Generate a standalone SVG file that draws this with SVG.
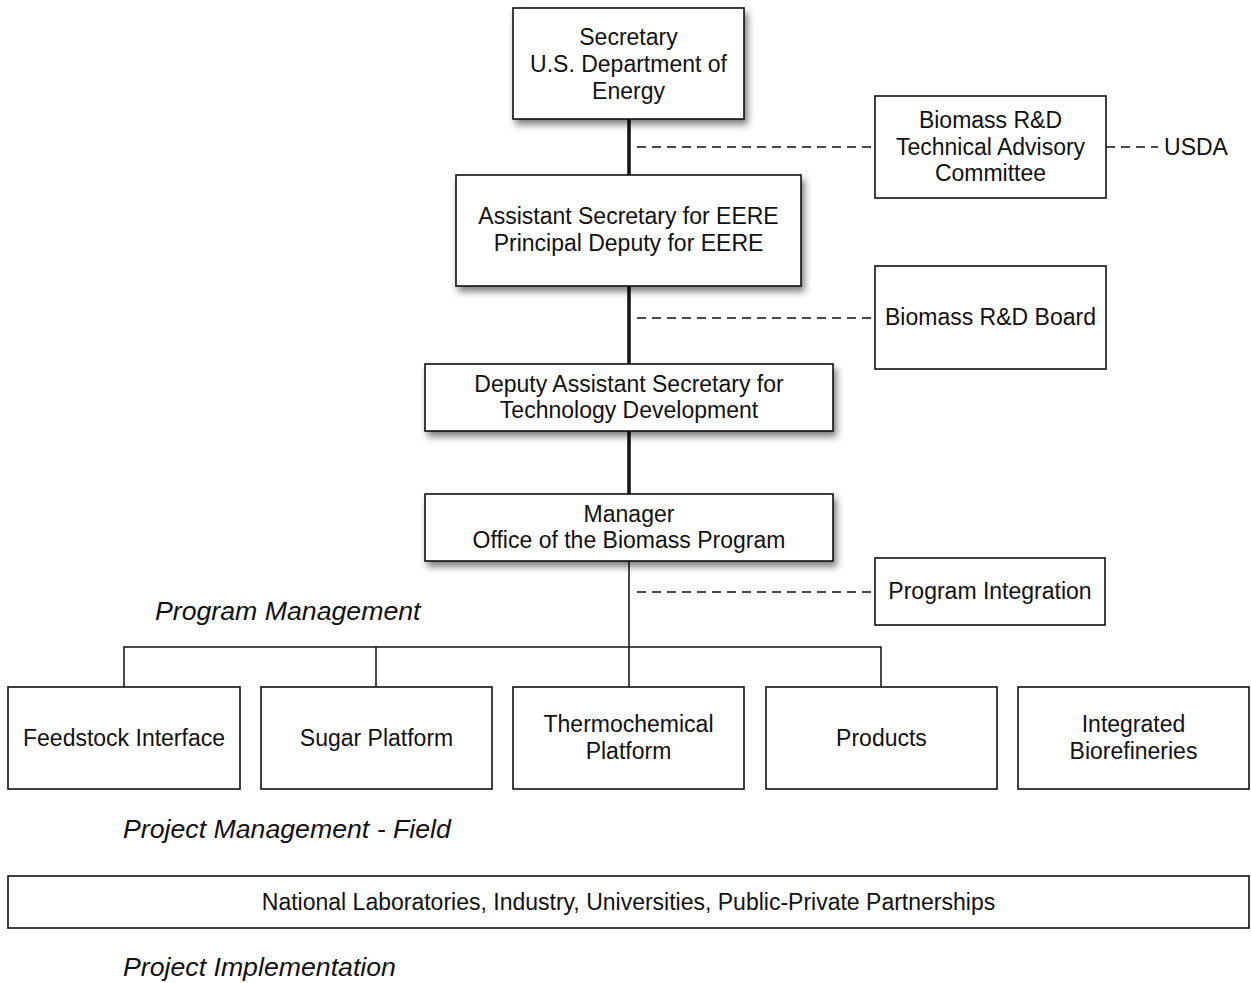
<svg xmlns="http://www.w3.org/2000/svg" width="1251" height="983" viewBox="0 0 1251 983">
<style>
.box{fill:#fff;stroke:#111;stroke-width:1.6}
.t{font-family:"Liberation Sans",Arial,sans-serif;font-size:23px;fill:#111;text-anchor:middle}
.lab{font-family:"Liberation Sans",Arial,sans-serif;font-size:26.7px;font-style:italic;fill:#111}
.thick{stroke:#111;stroke-width:3.5;fill:none}
.thin{stroke:#111;stroke-width:1.5;fill:none}
.dash{stroke:#111;stroke-width:1.3;stroke-dasharray:9 6;fill:none}
</style>
<defs>
<filter id="sh" x="-10%" y="-10%" width="125%" height="140%">
<feDropShadow dx="3" dy="5" stdDeviation="3.5" flood-color="#000" flood-opacity="0.5"/>
</filter>
</defs>
<rect width="1251" height="983" fill="#fff"/>
<g id="connectors">
<line class="thick" x1="629" y1="119" x2="629" y2="175"/>
<line class="thick" x1="629" y1="286" x2="629" y2="364"/>
<line class="thick" x1="629" y1="431" x2="629" y2="494"/>
<line class="thin" x1="629" y1="561" x2="629" y2="687"/>
<polyline class="thin" points="124,687 124,647 881,647 881,687"/>
<line class="thin" x1="376" y1="647" x2="376" y2="687"/>
<line class="dash" x1="637" y1="147" x2="875" y2="147"/>
<line class="dash" x1="1106" y1="147" x2="1158" y2="147"/>
<line class="dash" x1="637" y1="318" x2="875" y2="318"/>
<line class="dash" x1="637" y1="592" x2="875" y2="592"/>
</g>
<g id="secretary"><rect class="box" filter="url(#sh)" x="513" y="8" width="231" height="111"/>
<text class="t" x="628.5" y="45">Secretary</text><text class="t" x="628.5" y="72">U.S. Department of</text><text class="t" x="628.5" y="99">Energy</text></g>
<g id="assistant"><rect class="box" filter="url(#sh)" x="456" y="175" width="345" height="111"/>
<text class="t" x="628.5" y="224">Assistant Secretary for EERE</text><text class="t" x="628.5" y="251">Principal Deputy for EERE</text></g>
<g id="deputy"><rect class="box" filter="url(#sh)" x="425" y="364" width="408" height="67"/>
<text class="t" x="629" y="392">Deputy Assistant Secretary for</text><text class="t" x="629" y="418">Technology Development</text></g>
<g id="manager"><rect class="box" filter="url(#sh)" x="425" y="494" width="408" height="67"/>
<text class="t" x="629" y="522">Manager</text><text class="t" x="629" y="548">Office of the Biomass Program</text></g>
<g id="tac"><rect class="box" x="875" y="96" width="231" height="102"/>
<text class="t" x="990.5" y="128">Biomass R&amp;D</text><text class="t" x="990.5" y="155">Technical Advisory</text><text class="t" x="990.5" y="181">Committee</text></g>
<g id="usda"><text class="t" x="1196" y="155">USDA</text></g>
<g id="board"><rect class="box" x="875" y="266" width="231" height="103"/>
<text class="t" x="990.5" y="325">Biomass R&amp;D Board</text></g>
<g id="integration"><rect class="box" x="875" y="558" width="230" height="67"/>
<text class="t" x="990" y="599">Program Integration</text></g>
<g id="feedstock"><rect class="box" x="8" y="687" width="232" height="102"/>
<text class="t" x="124" y="746">Feedstock Interface</text></g>
<g id="sugar"><rect class="box" x="261" y="687" width="231" height="102"/>
<text class="t" x="376.5" y="746">Sugar Platform</text></g>
<g id="thermo"><rect class="box" x="513" y="687" width="231" height="102"/>
<text class="t" x="628.5" y="732">Thermochemical</text><text class="t" x="628.5" y="759">Platform</text></g>
<g id="products"><rect class="box" x="766" y="687" width="231" height="102"/>
<text class="t" x="881.5" y="746">Products</text></g>
<g id="integrated"><rect class="box" x="1018" y="687" width="231" height="102"/>
<text class="t" x="1133.5" y="732">Integrated</text><text class="t" x="1133.5" y="759">Biorefineries</text></g>
<g id="labs"><rect class="box" x="8" y="876" width="1241" height="52"/>
<text class="t" x="628.5" y="910">National Laboratories, Industry, Universities, Public-Private Partnerships</text></g>
<g id="labels">
<text class="lab" x="155" y="620">Program Management</text>
<text class="lab" x="123" y="838">Project Management - Field</text>
<text class="lab" x="123" y="976">Project Implementation</text>
</g>
</svg>
